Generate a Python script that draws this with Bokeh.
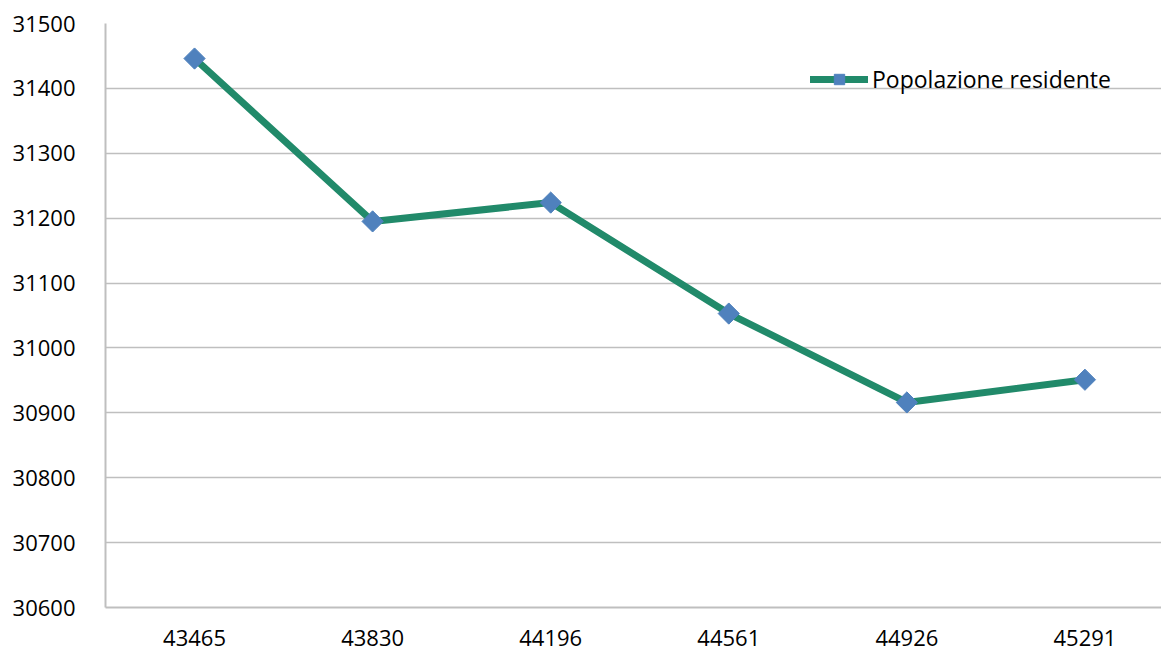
import math
from bokeh.plotting import figure
from bokeh.models import Range1d, FixedTicker, Legend, LegendItem
from bokeh.embed import file_html
from bokeh.resources import INLINE

categories = ["43465", "43830", "44196", "44561", "44926", "45291"]
popolazione = [31446, 31195, 31224, 31053, 30916, 30951]
y_ticks = [30600, 30700, 30800, 30900, 31000, 31100, 31200, 31300, 31400, 31500]

FONT = "Open Sans"
LINE = "#218A6A"
MARK = "#4F81BD"
GRID = "#BFBFBF"

xs = list(range(len(categories)))

p = figure(width=1161, height=652, output_backend="svg", toolbar_location=None,
           x_range=Range1d(-0.5, 5.43), y_range=Range1d(30600, 31500),
           min_border_left=105, min_border_right=0, min_border_top=23, min_border_bottom=45)
p.outline_line_color = None
p.background_fill_color = "white"

r_line = p.line(xs, popolazione, line_color=LINE, line_width=7, line_cap="round", line_join="round")
r_mark = p.scatter(xs, popolazione, marker="square", size=15, angle=math.pi / 4,
                   fill_color=MARK, line_color=MARK)

p.yaxis.ticker = FixedTicker(ticks=y_ticks)
p.xaxis.ticker = FixedTicker(ticks=xs)
p.xaxis.major_label_overrides = {i: c for i, c in enumerate(categories)}
for ax in (p.xaxis[0], p.yaxis[0]):
    ax.axis_line_color = GRID
    ax.axis_line_width = 2
    ax.major_tick_line_color = None
    ax.minor_tick_line_color = None
    ax.major_label_text_font = FONT
    ax.major_label_text_font_size = "22px"
    ax.major_label_text_color = "#000000"
p.yaxis.major_label_standoff = 24
p.xaxis.major_label_standoff = 16

p.xgrid.grid_line_color = None
p.ygrid.grid_line_color = GRID
p.ygrid.grid_line_width = 1.5

legend = Legend(items=[LegendItem(label="Popolazione residente", renderers=[r_line, r_mark])],
                location=(705, 512), border_line_color=None, background_fill_alpha=0,
                padding=0, margin=0, glyph_width=58, glyph_height=26, label_standoff=4,
                label_text_font=FONT, label_text_font_size="23px", label_text_color="#000000")
p.add_layout(legend)

open("out.html", "w").write(file_html(p, INLINE))
